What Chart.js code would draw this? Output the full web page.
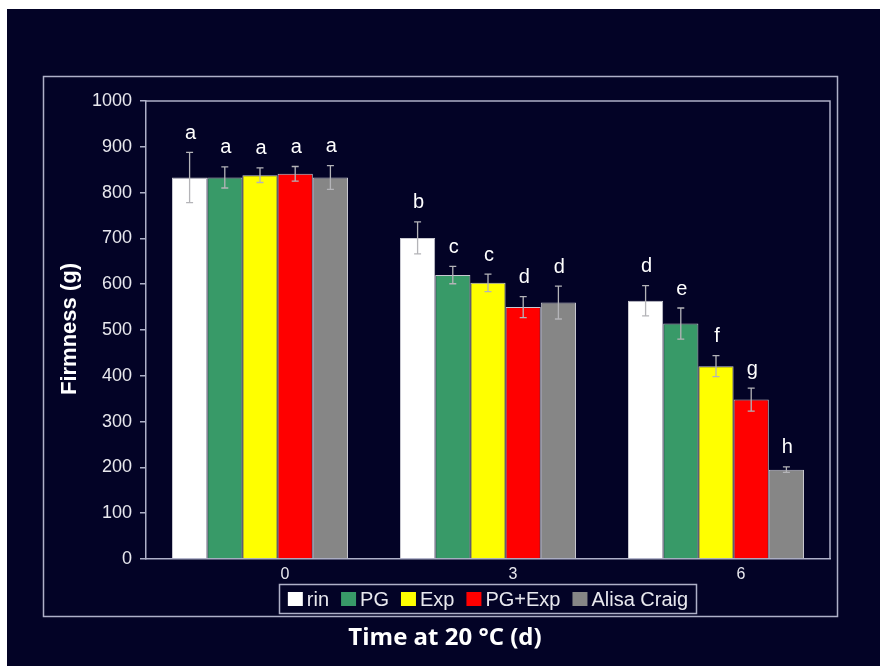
<!DOCTYPE html>
<html>
<head>
<meta charset="utf-8">
<script src="https://cdn.jsdelivr.net/npm/chart.js@4"></script>
<style>
  html, body { margin: 0; padding: 0; background: #030326; overflow: hidden; }
  #wrap { position: relative; width: 880px; height: 666px; }
  canvas { display: block; }
</style>
</head>
<body>
<div id="wrap"><canvas id="c" width="880" height="666"></canvas></div>
<script>
// Firmness of tomato fruit (g) after 0, 3 and 6 days at 20 °C
const days = ['0', '3', '6'];
const seriesNames = ['rin', 'PG', 'Exp', 'PG+Exp', 'Alisa Craig'];

const rinMean   = [833, 701, 564];
const pgMean    = [833, 620, 514];
const expMean   = [838, 603, 421];
const pgExpMean = [841, 550, 348];
const acMean    = [833, 560, 195];

const rinErr   = [55, 35, 33];
const pgErr    = [23, 19, 34];
const expErr   = [16, 19, 23];
const pgExpErr = [16, 23, 25];
const acErr    = [26, 36, 6];

// significance letters (same letter = not different)
const rinSig   = ['a', 'b', 'd'];
const pgSig    = ['a', 'c', 'e'];
const expSig   = ['a', 'c', 'f'];
const pgExpSig = ['a', 'd', 'g'];
const acSig    = ['a', 'd', 'h'];

const yTicks = [0, 100, 200, 300, 400, 500, 600, 700, 800, 900, 1000];

const fills = ['#ffffff', '#389a68', '#ffff00', '#ff0000', '#868686'];
const means = [rinMean, pgMean, expMean, pgExpMean, acMean];
const errs  = [rinErr, pgErr, expErr, pgExpErr, acErr];
const sigs  = [rinSig, pgSig, expSig, pgExpSig, acSig];

const BG = '#030326';
const LINE = '#aeb0c8';
const TEXT = '#e8e8ee';
const SANS = '"Liberation Sans", Arial, sans-serif';

const datasets = seriesNames.map((name, i) => ({
  label: name,
  data: means[i],
  errors: errs[i],
  letters: sigs[i],
  backgroundColor: fills[i],
  borderColor: '#c8c8d0',
  borderWidth: 1,
  categoryPercentage: 0.772,
  barPercentage: 1.0
}));

const decorPlugin = {
  id: 'decor',
  beforeDraw(chart) {
    const ctx = chart.ctx;
    ctx.save();
    ctx.fillStyle = BG;
    ctx.fillRect(0, 0, chart.width, chart.height);
    // white margin along the top and left edges
    ctx.fillStyle = '#ffffff';
    ctx.fillRect(0, 0, chart.width, 9);
    ctx.fillRect(0, 0, 7, chart.height);
    // outer frame around plot and legend
    ctx.strokeStyle = LINE;
    ctx.lineWidth = 1.5;
    ctx.strokeRect(43.5, 76.5, 794, 540);
    ctx.restore();
  },
  afterDatasetsDraw(chart) {
    const ctx = chart.ctx;
    const y = chart.scales.y;
    ctx.save();
    chart.data.datasets.forEach((ds, di) => {
      const meta = chart.getDatasetMeta(di);
      meta.data.forEach((bar, i) => {
        const v = ds.data[i], e = ds.errors[i];
        const yTop = y.getPixelForValue(v + e);
        const yBot = y.getPixelForValue(v - e);
        const x = bar.x;
        ctx.strokeStyle = '#b4b4b8';
        ctx.lineWidth = 1.3;
        ctx.beginPath();
        ctx.moveTo(x, yTop); ctx.lineTo(x, yBot);
        ctx.moveTo(x - 3.5, yTop); ctx.lineTo(x + 3.5, yTop);
        ctx.moveTo(x - 3.5, yBot); ctx.lineTo(x + 3.5, yBot);
        ctx.stroke();
        // significance letter above the error bar
        ctx.fillStyle = '#ffffff';
        ctx.font = '20px ' + SANS;
        ctx.textAlign = 'center';
        ctx.textBaseline = 'middle';
        ctx.fillText(ds.letters[i], x + 1, yTop - 19);
      });
    });
    ctx.restore();
  },
  afterDraw(chart) {
    const ctx = chart.ctx;
    const a = chart.chartArea;
    ctx.save();
    // top and right edges of the plot box
    ctx.strokeStyle = LINE;
    ctx.lineWidth = 1.5;
    ctx.beginPath();
    ctx.moveTo(a.left, a.top); ctx.lineTo(a.right, a.top); ctx.lineTo(a.right, a.bottom);
    ctx.stroke();

    // y-axis title
    ctx.fillStyle = '#ffffff';
    ctx.font = 'bold 22px ' + SANS;
    ctx.textAlign = 'center';
    ctx.textBaseline = 'middle';
    ctx.translate(70, 329);
    ctx.rotate(-Math.PI / 2);
    ctx.fillText('Firmness (g)', 0, 0);
    ctx.setTransform(1, 0, 0, 1, 0, 0);

    // legend
    const boxL = 279.5, boxT = 584.5, boxW = 417, boxH = 29;
    ctx.strokeStyle = LINE;
    ctx.lineWidth = 1.5;
    ctx.strokeRect(boxL, boxT, boxW, boxH);
    ctx.font = '20px ' + SANS;
    const sw = 15, gapIn = 4, gapOut = 12;
    const widths = chart.data.datasets.map(d => ctx.measureText(d.label).width);
    let total = widths.reduce((s, w) => s + sw + gapIn + w, 0) + gapOut * (widths.length - 1);
    let x = boxL + (boxW - total) / 2;
    const cy = boxT + boxH / 2;
    ctx.textAlign = 'left';
    ctx.textBaseline = 'middle';
    chart.data.datasets.forEach((d, i) => {
      ctx.fillStyle = d.backgroundColor;
      ctx.fillRect(x, cy - 7, sw, sw - 1);
      ctx.fillStyle = TEXT;
      ctx.fillText(d.label, x + sw + gapIn, cy + 1);
      x += sw + gapIn + widths[i] + gapOut;
    });

    // x-axis title
    ctx.fillStyle = '#ffffff';
    ctx.font = 'bold 24px "Open Sans", ' + SANS;
    ctx.textAlign = 'center';
    ctx.fillText('Time at 20 °C (d)', 445, 638);
    ctx.restore();
  }
};

new Chart(document.getElementById('c'), {
  type: 'bar',
  data: { labels: days, datasets },
  options: {
    responsive: false,
    animation: false,
    devicePixelRatio: 1,
    layout: { padding: { left: 0, top: 101, right: 50, bottom: 0 } },
    plugins: { legend: { display: false }, tooltip: { enabled: false } },
    scales: {
      x: {
        grid: { display: false },
        border: { color: LINE, width: 1.5 },
        ticks: { color: TEXT, font: { family: SANS, size: 16 }, labelOffset: 25, padding: -2 },
        afterFit(s) { s.height = 107; }
      },
      y: {
        min: 0, max: 1000,
        afterBuildTicks(s) { s.ticks = yTicks.map(v => ({ value: v })); },
        grid: { drawOnChartArea: false, drawTicks: true, tickLength: 6, color: LINE, lineWidth: 1.5 },
        border: { color: LINE, width: 1.5 },
        ticks: { color: TEXT, font: { family: SANS, size: 18 }, padding: 8, callback: v => String(v) },
        afterFit(s) { s.width = 146; }
      }
    }
  },
  plugins: [decorPlugin]
});
</script>
</body>
</html>
